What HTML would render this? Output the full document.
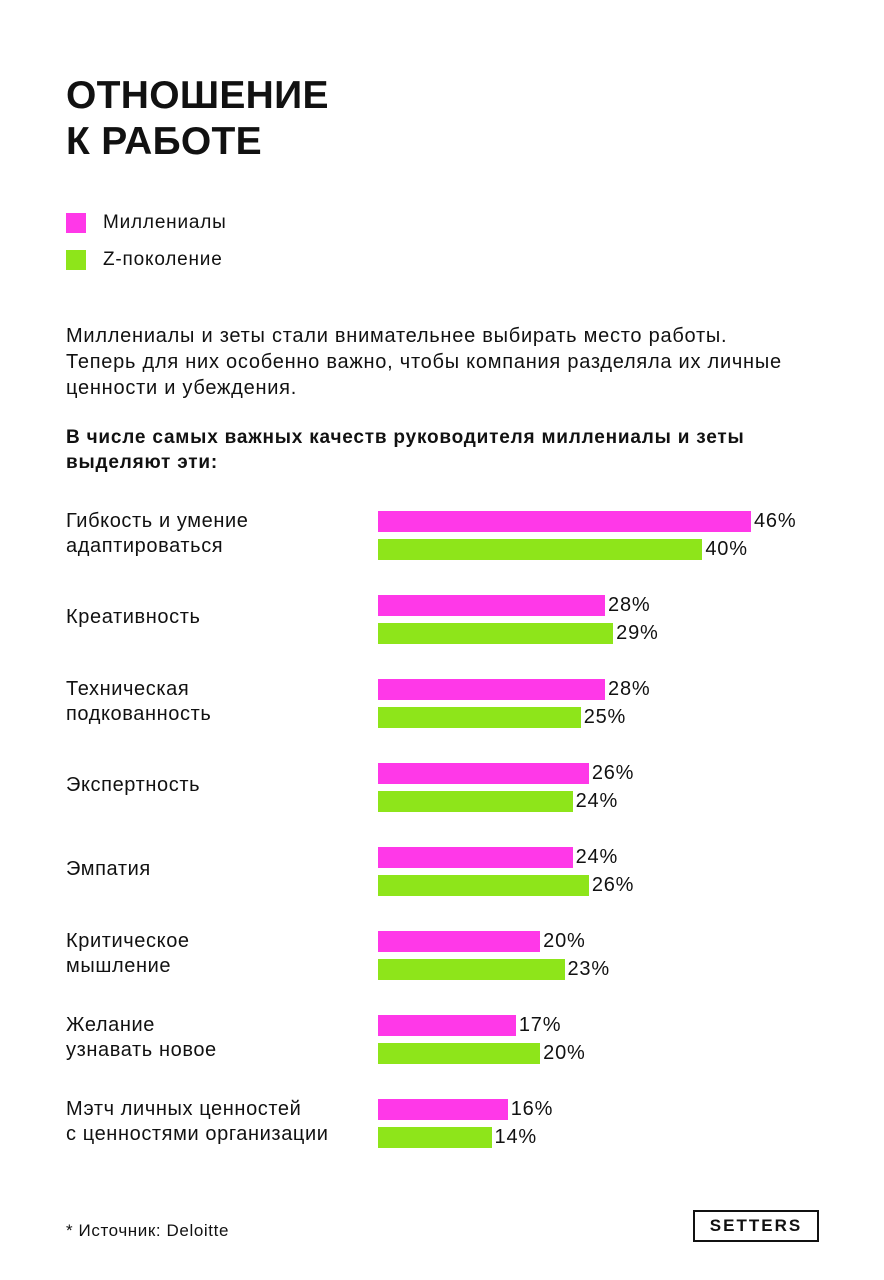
<!DOCTYPE html>
<html><head><meta charset="utf-8">
<style>
body{margin:0;width:884px;height:1280px;background:#fff;font-family:"Liberation Sans","Noto Sans CJK SC",sans-serif;color:#111;position:relative;overflow:hidden}
.abs{position:absolute}
.title{left:66px;top:73px;font-size:39px;font-weight:bold;line-height:46px;letter-spacing:0.3px}
.leg{left:66px;font-size:19px;letter-spacing:0.8px;display:flex;align-items:center}
.leg span.sw{width:20px;height:20px;display:inline-block;margin-right:17px}
.para{left:66px;top:323px;font-size:20px;letter-spacing:0.75px;line-height:26px}
.sub{left:66px;top:425px;font-size:19px;letter-spacing:0.8px;font-weight:bold;line-height:25px}
.cat{left:66px;font-size:20px;letter-spacing:0.6px;line-height:25px}
.val{font-size:20px;letter-spacing:0.8px}
.src{left:66px;top:1221px;font-size:17px;letter-spacing:0.6px}
.logo{left:693px;top:1210px;width:122px;height:28px;border:2px solid #111;font-size:17px;font-weight:bold;letter-spacing:2px;text-align:center;line-height:28px}
</style></head>
<body>
<div class="abs title">ОТНОШЕНИЕ<br>К РАБОТЕ</div>
<div class="abs leg" style="top:212px"><span class="sw" style="background:#ff38e8"></span>Миллениалы</div>
<div class="abs leg" style="top:249px"><span class="sw" style="background:#8ee51a"></span>Z-поколение</div>
<div class="abs para">Миллениалы и зеты стали внимательнее выбирать место работы.<br>Теперь для них особенно важно, чтобы компания разделяла их личные<br>ценности и убеждения.</div>
<div class="abs sub">В числе самых важных качеств руководителя миллениалы и зеты<br>выделяют эти:</div>
<div id="chart"></div>
<div class="abs src">* Источник: Deloitte</div>
<div class="abs logo">SETTERS</div>
<script>
const categories=["Гибкость и умение<br>адаптироваться","Креативность","Техническая<br>подкованность","Экспертность","Эмпатия","Критическое<br>мышление","Желание<br>узнавать новое","Мэтч личных ценностей<br>с ценностями организации"];
const millennials=[46,28,28,26,24,20,17,16];
const genZ=[40,29,25,24,26,23,20,14];
const x0=378, scale=(751-378)/46, top0=511, step=84, bh=21;
const root=document.getElementById('chart');
function x(v){return v*scale;}
categories.forEach((c,i)=>{
  const y=top0+i*step;
  const lab=document.createElement('div');
  lab.className='abs cat';
  
  
  lab.innerHTML=c;
  const two=c.includes('<br>');
  lab.style.top=(two? y-2 : y+10)+'px';
  root.appendChild(lab);
  [[millennials[i],'#ff38e8',0,'bar-millennials'],[genZ[i],'#8ee51a',28,'bar-gen-z']].forEach(([v,col,off,nm])=>{
    const b=document.createElement('div');
    b.className='abs';
    
    
    b.style.cssText=`left:${x0}px;top:${y+off}px;width:${x(v)}px;height:${bh}px;background:${col}`;
    root.appendChild(b);
    const t=document.createElement('div');
    t.className='abs val';
    
    
    t.textContent=v+'%';
    t.style.left=(x0+x(v)+3)+'px';
    t.style.top=(y+off-1)+'px';
    root.appendChild(t);
  });
});
</script>
</body></html>
